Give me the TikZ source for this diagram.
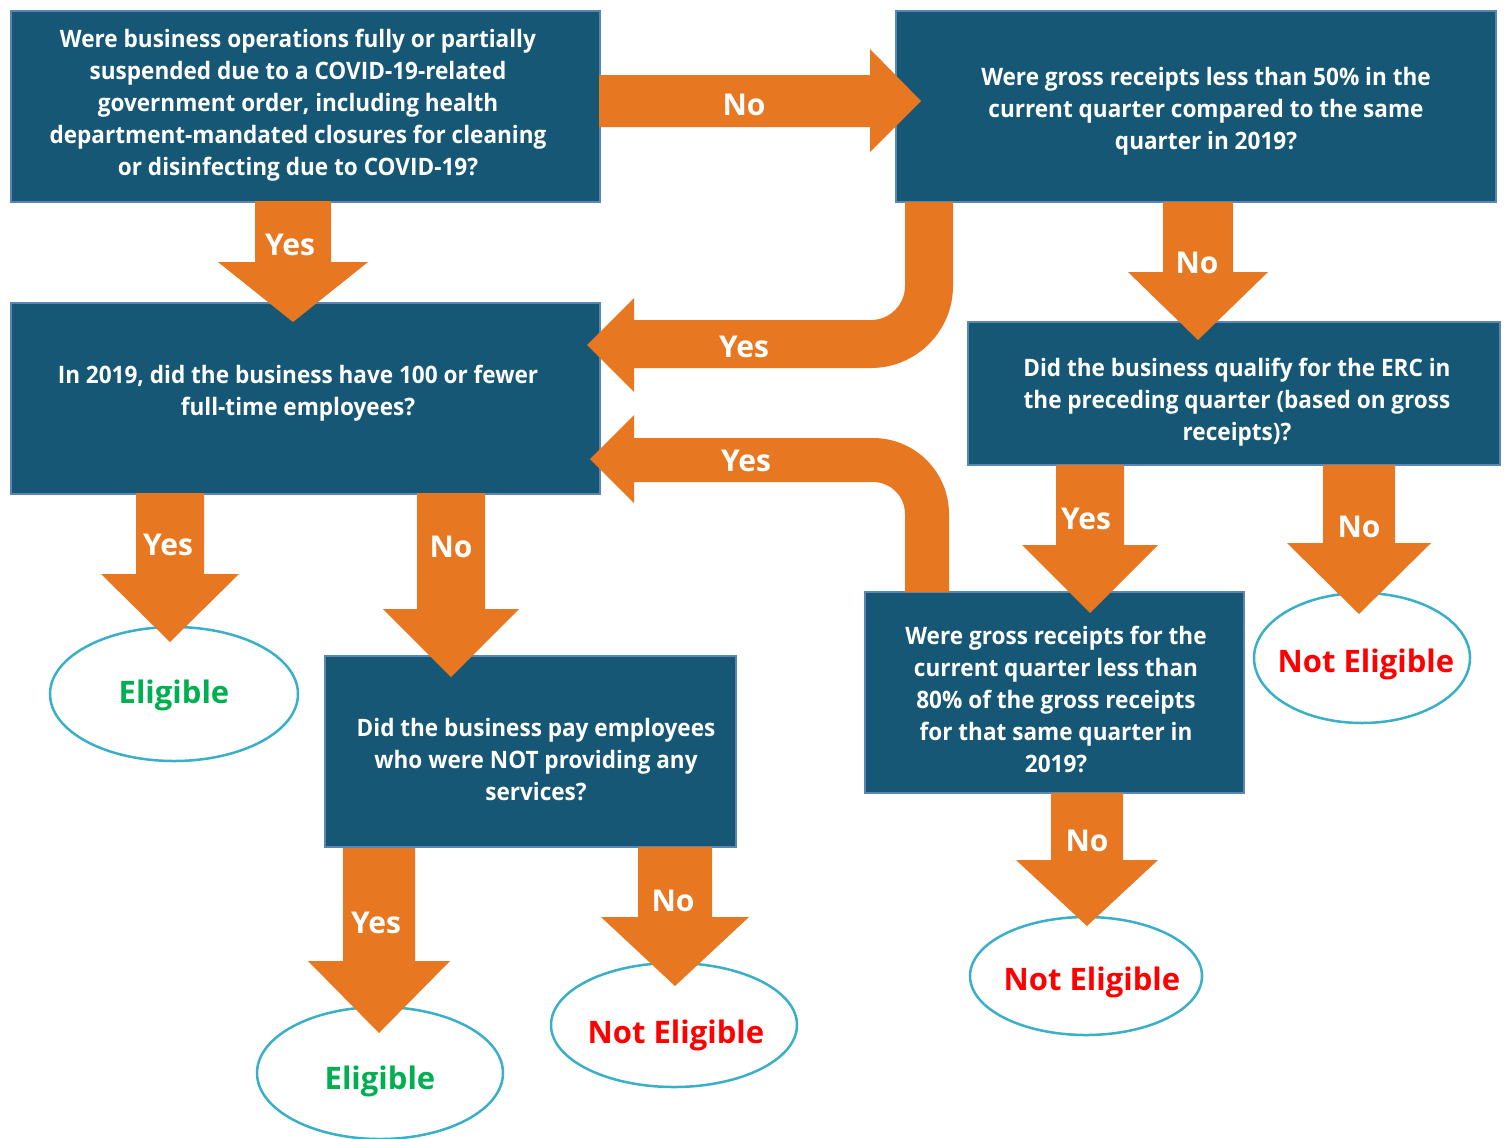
\documentclass[tikz,border=0pt]{standalone}
\usepackage{fontspec}
\setmainfont{Open Sans}[FakeStretch=0.94]
\newfontfamily\widefont{Open Sans}
\usetikzlibrary{shapes.geometric}
\definecolor{boxblue}{HTML}{155775}
\definecolor{boxedge}{HTML}{5A86B3}
\definecolor{arrorange}{HTML}{E87722}
\definecolor{ovaledge}{HTML}{3AAFC8}
\definecolor{okgreen}{HTML}{00B050}
\definecolor{nored}{HTML}{FF0000}
\newcommand\darr[6]{%
  \fill[arrorange] (#1-#5,#2) -- (#1+#5,#2) -- (#1+#5,#3) -- (#1+#6,#3) -- (#1,#4)
    -- (#1-#6,#3) -- (#1-#5,#3) -- cycle;}
\begin{document}
\begin{tikzpicture}[x=1pt,y=-1pt,
  qbox/.style={draw=boxedge, line width=2pt, fill=boxblue, inner sep=0pt},
  qtext/.style={text=white, font=\fontsize{24}{32}\selectfont\bfseries, align=center, inner sep=0pt},
  lbl/.style={text=white, font=\widefont\fontsize{30}{32}\selectfont\bfseries, inner sep=0pt},
  oval/.style={ellipse, draw=ovaledge, line width=2.5pt, fill=white, inner sep=0pt},
  ovtext/.style={font=\widefont\fontsize{31}{34}\selectfont\bfseries, inner sep=0pt}]
\useasboundingbox (0,0) rectangle (1506,1138);
\fill[white] (0,0) rectangle (1506,1138);

% question boxes
\node[qbox, minimum width=589pt, minimum height=191pt] (q1) at (305,106) {};
\node[qbox, minimum width=600pt, minimum height=191pt] (q2) at (1196,106) {};
\node[qbox, minimum width=589pt, minimum height=191pt] (q3) at (305,398) {};
\node[qbox, minimum width=532pt, minimum height=143pt] (q4) at (1234,393) {};
\node[qbox, minimum width=379pt, minimum height=201pt] (q5) at (1054,692) {};
\node[qbox, minimum width=411pt, minimum height=191pt] (q6) at (530,751) {};

\node[qtext] (q1t) at (298,105) {Were business operations fully or partially\\suspended due to a COVID-19-related\\government order, including health\\department-mandated closures for cleaning\\or disinfecting due to COVID-19?};
\node[qtext] (q2t) at (1206,111) {Were gross receipts less than 50\% in the\\current quarter compared to the same\\quarter in 2019?};
\node[qtext] (q3t) at (298,393) {In 2019, did the business have 100 or fewer\\full-time employees?};
\node[qtext] (q4t) at (1237,402) {Did the business qualify for the ERC in\\the preceding quarter (based on gross\\receipts)?};
\node[qtext] (q5t) at (1056,699) {Were gross receipts for the\\current quarter less than\\80\% of the gross receipts\\for that same quarter in\\2019?};
\node[qtext] (q6t) at (536,760) {Did the business pay employees\\who were NOT providing any\\services?};

% outcome ovals
\node[oval, minimum width=248pt, minimum height=134pt] (e1) at (174,694) {};
\node[oval, minimum width=246pt, minimum height=132pt] (e2) at (380,1073) {};
\node[oval, minimum width=246pt, minimum height=124pt] (e3) at (674,1025) {};
\node[oval, minimum width=232pt, minimum height=118pt] (e4) at (1086,976) {};
\node[oval, minimum width=216pt, minimum height=130pt] (e5) at (1362,658) {};

\node[ovtext, text=okgreen] (e1t) at (174,695) {Eligible};
\node[ovtext, text=okgreen] (e2t) at (380,1081) {Eligible};
\node[ovtext, text=nored] (e3t) at (676,1035) {Not Eligible};
\node[ovtext, text=nored] (e4t) at (1092,982) {Not Eligible};
\node[ovtext, text=nored] (e5t) at (1366,664) {Not Eligible};

% block arrows
\fill[arrorange] (599,75) -- (870,75) -- (870,49) -- (921,101) -- (870,152) -- (870,127) -- (599,127) -- cycle;
\darr{293}{201}{262}{322}{38}{75}
\darr{1198}{202}{272}{340}{35}{70}
\darr{170}{493}{574}{642}{34}{69}
\darr{451}{493}{609}{677}{34}{68}
\darr{1090}{465}{545}{613}{34}{68}
\darr{1359}{465}{543}{614}{36}{72}
\darr{1087}{793}{860}{926}{36}{71}
\darr{379}{848}{961}{1033}{36}{71}
\darr{675}{847}{917}{986}{37}{74}

% curved arrow from q2 to q3
\fill[arrorange] (905,202) -- (953,202) -- (953,286)
  arc[start angle=0, end angle=90, radius=82] -- (634,368) -- (634,392) -- (587,345)
  -- (634,298) -- (634,320) -- (871,320) arc[start angle=90, end angle=0, radius=34] -- cycle;
% curved arrow from q5 to q3
\fill[arrorange] (905,592) -- (905,514) arc[start angle=0, end angle=-90, radius=32]
  -- (634,482) -- (634,503) -- (590,459) -- (634,415) -- (634,438) -- (873,438)
  arc[start angle=-90, end angle=0, radius=76] -- (949,592) -- cycle;

% labels
\node[lbl] (l1) at (744,105) {No};
\node[lbl] (l2) at (290,245) {Yes};
\node[lbl] (l3) at (1197,263) {No};
\node[lbl] (l4) at (744,347) {Yes};
\node[lbl] (l5) at (746,461) {Yes};
\node[lbl] (l6) at (168,545) {Yes};
\node[lbl] (l7) at (451,547) {No};
\node[lbl] (l8) at (1086,519) {Yes};
\node[lbl] (l9) at (1359,527) {No};
\node[lbl] (l10) at (1087,841) {No};
\node[lbl] (l11) at (376,923) {Yes};
\node[lbl] (l12) at (673,901) {No};
\end{tikzpicture}
\end{document}
